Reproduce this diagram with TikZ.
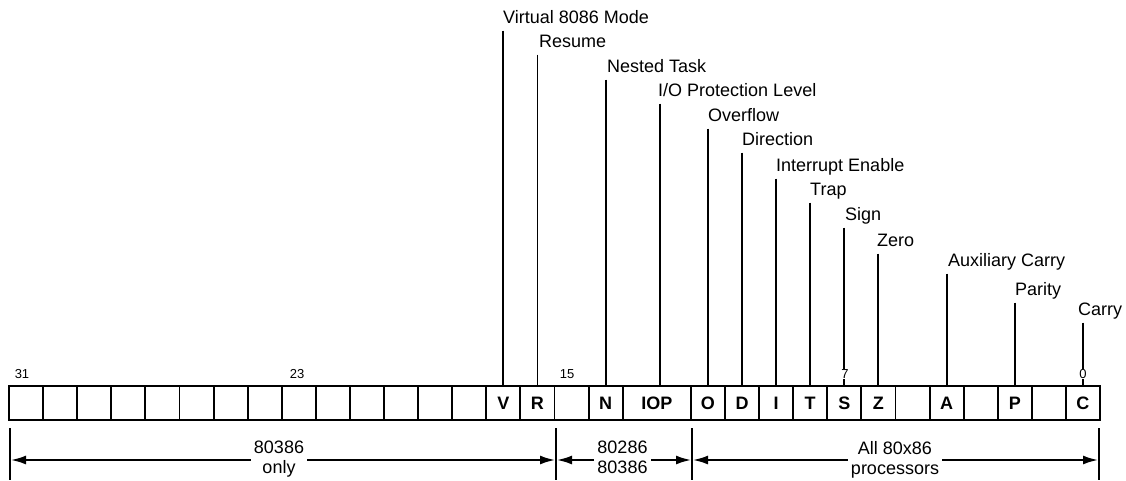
\documentclass[tikz,border=0pt]{standalone}
\usepackage{fontspec}
\setmainfont{Liberation Sans}
\usetikzlibrary{arrows.meta}
\begin{document}
\begin{tikzpicture}[x=1pt,y=-1pt,
  cell/.style={draw, line width=1.9pt, minimum width=34.094pt, minimum height=34pt,
    inner sep=0pt, outer sep=0pt, font=\fontsize{18}{18}\selectfont\bfseries},
  lbl/.style={inner xsep=0pt, inner ysep=3.5pt, text depth=4pt, anchor=base west,
    font=\fontsize{18}{20}\selectfont},
  lead/.style={line width=1.9pt},
  num/.style={fill=white, inner sep=0.8pt, font=\fontsize{13}{13}\selectfont},
  span/.style={line width=1.9pt, shorten <=1pt, shorten >=1pt,
    {Latex[length=15pt,width=9pt]}-{Latex[length=15pt,width=9pt]}},
  spantxt/.style={fill=white, inner xsep=3pt, inner ysep=1pt, align=center, anchor=north,
    font=\fontsize{18}{20}\selectfont},
  tick/.style={line width=1.9pt}]
\useasboundingbox (0,0) rectangle (1126,480);

% register cells
\foreach \i/\t in {31/{},30/{},29/{},28/{},27/{},26/{},25/{},24/{},23/{},22/{},21/{},20/{},
  19/{},18/{},17/V,16/R,15/{},14/N,11/O,10/D,9/I,8/T,7/S,6/Z,5/{},4/A,3/{},2/P,1/{},0/C}
  \node[cell] (b\i) at ({26.047+(31-\i)*34.094}, 403) {\t};
\node[cell, minimum width=68.188pt] (b13) at (656.79, 403) {IOP};
\coordinate (iopt) at ([xshift=3pt]b13.north);

% flag labels
\node[lbl] (lV) at (503,23)  {Virtual 8086 Mode};
\node[lbl] (lR) at (539,47)  {Resume};
\node[lbl] (lN) at (607,72)  {Nested Task};
\node[lbl] (lIOP) at (658,96) {I/O Protection Level};
\node[lbl] (lO) at (708,121) {Overflow};
\node[lbl] (lD) at (742,145) {Direction};
\node[lbl] (lI) at (776,171) {Interrupt Enable};
\node[lbl] (lT) at (810,195) {Trap};
\node[lbl] (lS) at (845,220) {Sign};
\node[lbl] (lZ) at (877,246) {Zero};
\node[lbl] (lA) at (948,266) {Auxiliary Carry};
\node[lbl] (lP) at (1015,295) {Parity};
\node[lbl] (lC) at (1078,315) {Carry};

% leader lines
\foreach \l/\b in {V/17,R/16,N/14,O/11,D/10,I/9,T/8,S/7,Z/6,A/4,P/2,C/0}
  \draw[lead] (l\l.south -| b\b.north) -- (b\b.north);
\draw[lead] (lIOP.south -| iopt) -- (iopt);

% bit numbers
\node[num] (n31) at (22,374) {31};
\node[num] (n23) at (297,374) {23};
\node[num] (n15) at (567,374) {15};
\node[num] (n7) at (845,374) {7};
\node[num] (n0) at (1083,374) {0};

% spans
\coordinate (ka0) at (10,428);  \coordinate (kb0) at (10,480);  \coordinate (m0) at (10,460);
\coordinate (ka1) at (556,428); \coordinate (kb1) at (556,480); \coordinate (m1) at (556,460);
\coordinate (ka2) at (692,428); \coordinate (kb2) at (692,480); \coordinate (m2) at (692,460);
\coordinate (ka3) at (1099,428); \coordinate (kb3) at (1099,480); \coordinate (m3) at (1099,460);
\foreach \k in {0,1,2,3} \draw[tick] (ka\k) -- (kb\k);
\draw[span] (m0) -- (m1);
\draw[span] (m1) -- (m2);
\draw[span] (m2) -- (m3);
\node[spantxt] (s1) at (279,440) {80386\\only};
\node[spantxt] (s2) at (622.5,440) {80286\\80386};
\node[spantxt] (s3) at (895,440) {All 80x86\\processors};
\end{tikzpicture}
\end{document}
